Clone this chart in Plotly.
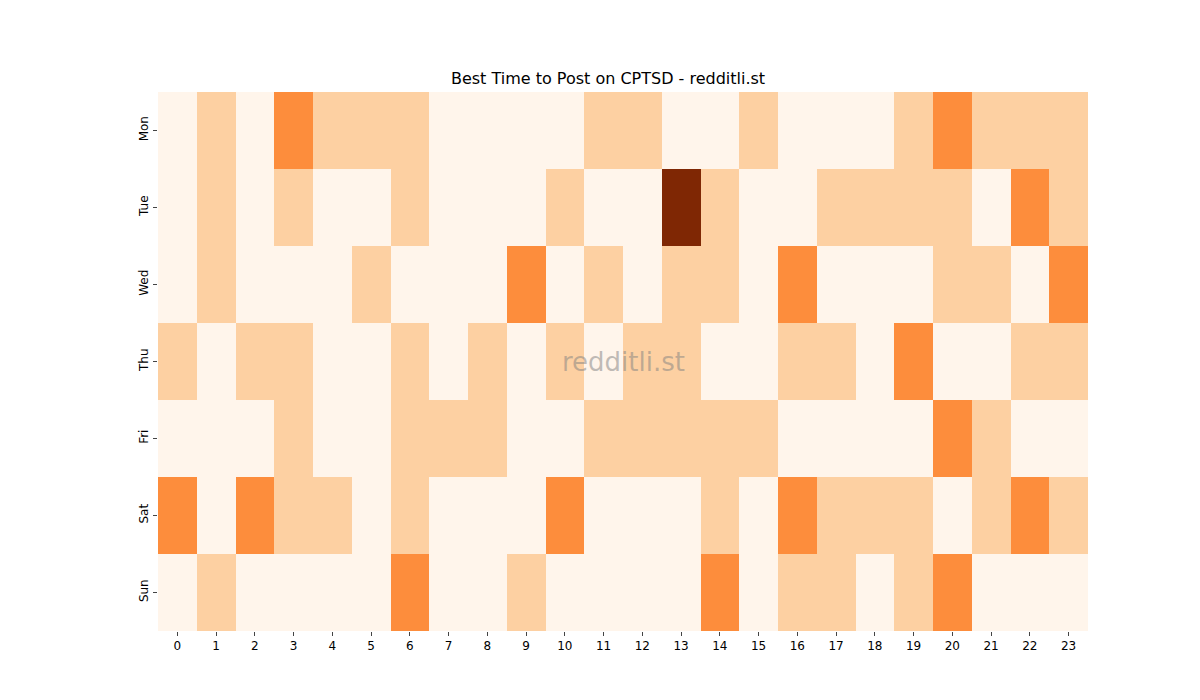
import plotly.graph_objects as go

days = ["Mon", "Tue", "Wed", "Thu", "Fri", "Sat", "Sun"]
hours = list(range(24))
mon = [0,1,0,2,1,1,1,0,0,0,0,1,1,0,0,1,0,0,0,1,2,1,1,1]
tue = [0,1,0,1,0,0,1,0,0,0,1,0,0,3,1,0,0,1,1,1,1,0,2,1]
wed = [0,1,0,0,0,1,0,0,0,2,0,1,0,1,1,0,2,0,0,0,1,1,0,2]
thu = [1,0,1,1,0,0,1,0,1,0,1,0,1,1,0,0,1,1,0,2,0,0,1,1]
fri = [0,0,0,1,0,0,1,1,1,0,0,1,1,1,1,1,0,0,0,0,2,1,0,0]
sat = [2,0,2,1,1,0,1,0,0,0,2,0,0,0,1,0,2,1,1,1,0,1,2,1]
sun = [0,1,0,0,0,0,2,0,0,1,0,0,0,0,2,0,1,1,0,1,2,0,0,0]
z = [mon, tue, wed, thu, fri, sat, sun]

colorscale = [
    [0.0, "#fff5eb"], [0.1666, "#fff5eb"],
    [0.1667, "#fdd0a2"], [0.5, "#fdd0a2"],
    [0.5001, "#fd8d3c"], [0.8333, "#fd8d3c"],
    [0.8334, "#7f2704"], [1.0, "#7f2704"],
]

fig = go.Figure(go.Heatmap(z=z, x=hours, y=days, colorscale=colorscale,
                           zmin=0, zmax=3, showscale=False, xgap=0, ygap=0))
fig.update_layout(
    width=1200, height=700,
    margin=dict(l=150, r=120, t=84, b=77),
    paper_bgcolor="white", plot_bgcolor="white",
    font=dict(family="DejaVu Sans", size=12, color="black"),
    title=dict(text="Best Time to Post on CPTSD - redditli.st", x=0.5, xanchor="center",
               y=1 - 70/700, yanchor="middle", font=dict(size=16)),
    xaxis=dict(tickmode="array", tickvals=hours, ticks="outside", ticklen=4,
               showgrid=False, zeroline=False, showline=False),
    yaxis=dict(autorange="reversed", ticks="outside", ticklen=4, tickangle=-90,
               showgrid=False, zeroline=False, showline=False),
    annotations=[dict(text="redditli.st", x=0.5, y=0.5, xref="paper", yref="paper",
                      showarrow=False, font=dict(size=26, color="rgba(128,128,128,0.5)"))],
)
fig.write_html("out.html")
